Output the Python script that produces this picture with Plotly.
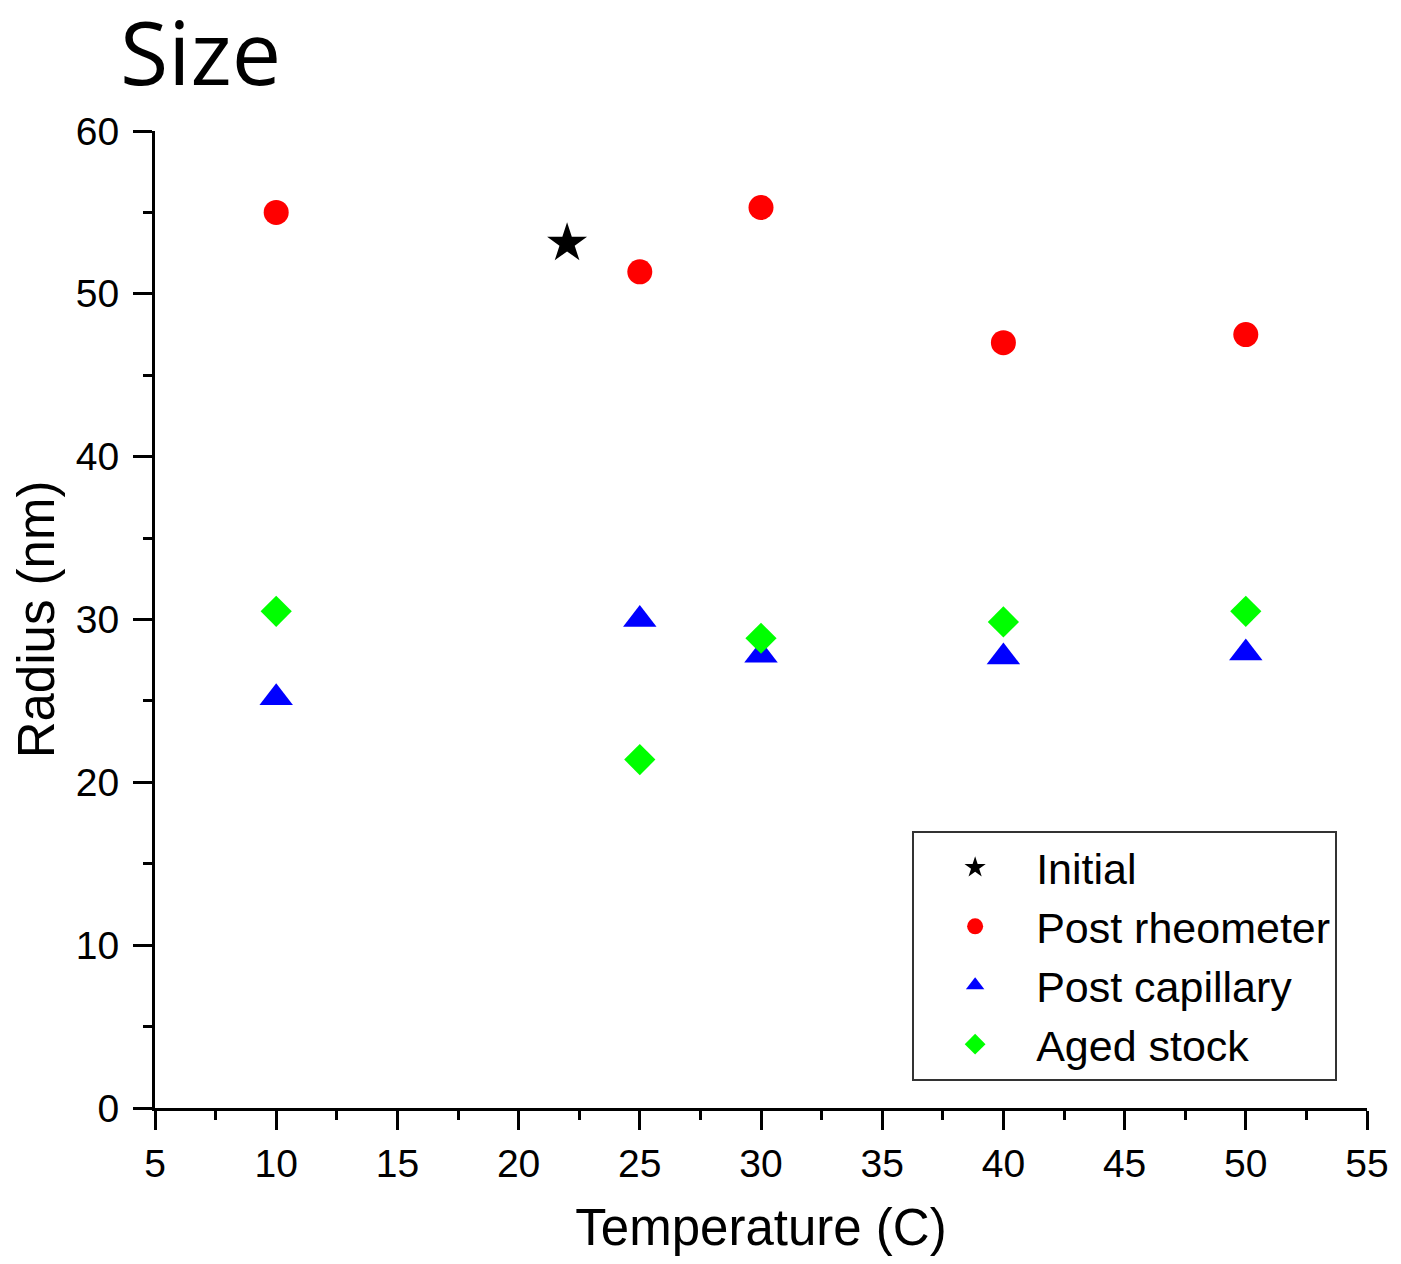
import plotly.graph_objects as go

# Data
initial_x = [22]
initial_y = [53.1]

rheo_x = [10, 25, 30, 40, 50]
rheo_y = [55.0, 51.35, 55.3, 47.0, 47.5]

cap_x = [10, 25, 30, 40, 50]
cap_y = [25.2, 30.0, 27.8, 27.7, 27.95]

aged_x = [10, 25, 30, 40, 50]
aged_y = [30.5, 21.4, 28.85, 29.85, 30.5]

x_ticks = [5, 10, 15, 20, 25, 30, 35, 40, 45, 50, 55]
y_ticks = [0, 10, 20, 30, 40, 50, 60]

fig = go.Figure()
fig.add_trace(go.Scatter(x=initial_x, y=initial_y, mode="markers", name="Initial",
                         marker=dict(symbol="star", size=30, color="black", line=dict(width=0))))
fig.add_trace(go.Scatter(x=rheo_x, y=rheo_y, mode="markers", name="Post rheometer",
                         marker=dict(symbol="circle", size=25, color="#ff0000", line=dict(width=0))))
fig.add_trace(go.Scatter(x=cap_x, y=cap_y, mode="markers", name="Post capillary",
                         marker=dict(symbol="triangle-up", size=29, color="#0000ff", line=dict(width=0))))
fig.add_trace(go.Scatter(x=aged_x, y=aged_y, mode="markers", name="Aged stock",
                         marker=dict(symbol="diamond", size=24, color="#00ff00", line=dict(width=0))))

axis_font = dict(family="Liberation Sans, Arial", size=39, color="black")
title_font = dict(family="Liberation Sans, Arial", size=51, color="black")
W, H = 1393, 1256
fig.update_layout(
    width=W, height=H,
    paper_bgcolor="white", plot_bgcolor="white",
    margin=dict(l=147, r=29, t=123, b=156, pad=0),
    title=dict(text="Size", x=112 / W, xanchor="left", xref="container",
               y=1 - 46 / H, yanchor="middle", yref="container",
               font=dict(family="Open Sans, Noto Sans", size=88, color="black")),
    xaxis=dict(range=[5, 55], tickvals=x_ticks, showgrid=False, zeroline=False,
               showline=True, linecolor="black", linewidth=3,
               ticks="outside", ticklen=19, tickwidth=3, tickcolor="black",
               minor=dict(dtick=2.5, tick0=5, ticks="outside", ticklen=9, tickwidth=3, tickcolor="black"),
               tickfont=axis_font,
               title=dict(text="Temperature (C)", font=title_font, standoff=26)),
    yaxis=dict(range=[0, 60], tickvals=y_ticks, showgrid=False, zeroline=False,
               showline=True, linecolor="black", linewidth=3,
               ticks="outside", ticklen=19, tickwidth=3, tickcolor="black",
               minor=dict(dtick=5, tick0=0, ticks="outside", ticklen=9, tickwidth=3, tickcolor="black"),
               tickfont=axis_font, ticklabelstandoff=6,
               title=dict(text="Radius (nm)", font=title_font, standoff=10)),
    legend=dict(x=(913 - 154) / 1215, y=(1108 - 831) / 977, xanchor="left", yanchor="top",
                bgcolor="white", bordercolor="#333333", borderwidth=2,
                font=dict(family="Liberation Sans, Arial", size=43, color="black"),
                itemsizing="trace", itemwidth=112, tracegroupgap=0),
    showlegend=True,
)

fig.write_html("out.html")
